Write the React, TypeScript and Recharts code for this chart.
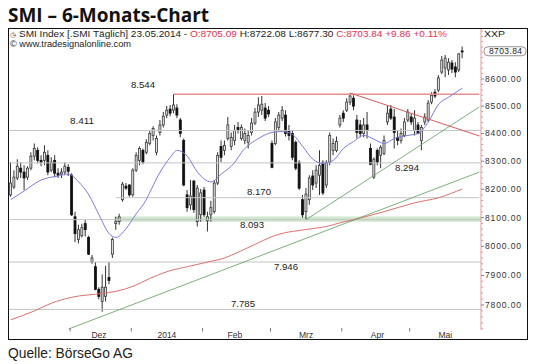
import React from "react";
import { ComposedChart, Bar, Line, XAxis, YAxis, ReferenceLine, ReferenceArea } from "recharts";

// trading days per month
const NOV_2013 = [6, 7, 8, 11, 12, 13, 14, 15, 18, 19, 20, 21, 22, 25, 26, 27, 28, 29];
const DEC_2013 = [2, 3, 4, 5, 6, 9, 10, 11, 12, 13, 16, 17, 18, 19, 20, 23, 27, 30];
const JAN_2014 = [3, 6, 7, 8, 9, 10, 13, 14, 15, 16, 17, 20, 21, 22, 23, 24, 27, 28, 29, 30, 31];
const FEB_2014 = [3, 4, 5, 6, 7, 10, 11, 12, 13, 14, 17, 18, 19, 20, 21, 24, 25, 26, 27, 28];
const MAR_2014 = [3, 4, 5, 6, 7, 10, 11, 12, 13, 14, 17, 18, 19, 20, 21, 24, 25, 26, 27, 28, 31];
const APR_2014 = [1, 2, 3, 4, 7, 8, 9, 10, 11, 14, 15, 16, 17, 22, 23, 24, 25, 28, 29, 30];
const MAY_2014 = [2, 5, 6, 7, 8, 9, 12, 13, 14, 15, 16, 19, 20, 21, 22, 23];
// empty slots right of the last session
const AFTER_END = ["26.05.2014", "27.05.2014", "28.05.2014", "30.05.2014", "02.06.2014"];

const OPEN = [
  8180, 8208, 8240, 8275, 8261, 8243, 8275, 8318, 8339, 8303, 8303, 8321, 8268, 8303, 8257, 8254, 8261, 8278,
  8250, 8103, 8024, 8037, 8079, 8031, 7946, 7930, 7853, 7812, 7829, 7893, 7973, 8079, 8086, 8163, 8211, 8215,
  8180, 8268, 8303, 8339, 8332, 8364, 8393, 8332, 8404, 8431, 8467, 8489, 8485, 8493, 8449, 8375, 8180, 8145, 8229, 8086, 8110,
  8197, 8089, 8110, 8121, 8222, 8353, 8339, 8382, 8353, 8375, 8422, 8382, 8375, 8368, 8404, 8438, 8478, 8485, 8493, 8485,
  8364, 8364, 8422, 8456, 8467, 8411, 8400, 8368, 8296, 8163, 8121, 8163, 8247, 8222, 8250, 8296, 8215, 8296, 8339, 8339, 8431,
  8474, 8485, 8515, 8529, 8449, 8431, 8400, 8431, 8346, 8243, 8339, 8321, 8328, 8442, 8489, 8460, 8386, 8375, 8393, 8449,
  8460, 8411, 8431, 8375, 8442, 8449, 8515, 8551, 8559, 8626, 8641, 8634, 8660, 8645, 8634, 8705.09,
];
const HIGH = [
  8296, 8268, 8307, 8296, 8285, 8282, 8332, 8364, 8350, 8321, 8357, 8339, 8314, 8321, 8275, 8275, 8296, 8289,
  8257, 8121, 8075, 8079, 8093, 8037, 7970, 7946, 7860, 7903, 7933, 7946, 8031, 8103, 8114, 8226, 8222, 8218,
  8275, 8332, 8353, 8346, 8379, 8411, 8426, 8393, 8449, 8478, 8500, 8504, 8544, 8507, 8456, 8382, 8197, 8233, 8233, 8215, 8201,
  8208, 8121, 8159, 8233, 8332, 8375, 8375, 8460, 8404, 8431, 8442, 8433, 8418, 8411, 8456, 8493, 8533, 8537, 8511, 8500,
  8375, 8456, 8478, 8500, 8485, 8431, 8411, 8375, 8303, 8180, 8204, 8250, 8268, 8285, 8339, 8303, 8303, 8404, 8382, 8389, 8467,
  8485, 8529, 8548, 8540, 8467, 8449, 8456, 8478, 8364, 8314, 8346, 8357, 8393, 8500, 8504, 8489, 8411, 8418, 8456, 8489,
  8471, 8485, 8442, 8431, 8474, 8522, 8551, 8562, 8615, 8686, 8690, 8678, 8671, 8663, 8697, 8722.08,
];
const LOW = [
  8173, 8201, 8233, 8240, 8197, 8233, 8268, 8303, 8292, 8282, 8285, 8250, 8261, 8243, 8240, 8240, 8250, 8247,
  8106, 8014, 8010, 8031, 8034, 7970, 7940, 7850, 7819, 7777, 7812, 7870, 7960, 8058, 8075, 8156, 8197, 8173,
  8173, 8261, 8285, 8289, 8325, 8357, 8375, 8321, 8393, 8422, 8456, 8463, 8474, 8456, 8386, 8211, 8121, 8128, 8117, 8069, 8086,
  8103, 8052, 8086, 8114, 8215, 8296, 8321, 8375, 8339, 8357, 8400, 8375, 8361, 8346, 8393, 8431, 8460, 8467, 8445, 8460,
  8275, 8357, 8411, 8445, 8389, 8375, 8303, 8268, 8197, 8100, 8093, 8145, 8197, 8204, 8180, 8180, 8204, 8285, 8321, 8332, 8422,
  8442, 8478, 8504, 8485, 8382, 8386, 8386, 8382, 8285, 8236, 8285, 8275, 8321, 8431, 8449, 8346, 8357, 8364, 8386, 8442,
  8431, 8393, 8397, 8339, 8431, 8442, 8507, 8529, 8551, 8619, 8607, 8615, 8622, 8607, 8626, 8677.3,
];
const CLOSE = [
  8222, 8243, 8282, 8261, 8240, 8275, 8318, 8346, 8303, 8296, 8332, 8261, 8296, 8257, 8250, 8261, 8282, 8264,
  8110, 8044, 8058, 8065, 8058, 7973, 7960, 7853, 7829, 7860, 7860, 7883, 8024, 8086, 8103, 8218, 8204, 8180,
  8268, 8321, 8346, 8296, 8368, 8400, 8418, 8382, 8431, 8463, 8485, 8474, 8504, 8467, 8400, 8215, 8135, 8176, 8128, 8204, 8187,
  8110, 8103, 8135, 8222, 8321, 8314, 8357, 8431, 8386, 8411, 8411, 8422, 8400, 8393, 8438, 8478, 8504, 8507, 8456, 8471,
  8278, 8442, 8467, 8485, 8400, 8393, 8314, 8275, 8204, 8110, 8183, 8240, 8215, 8268, 8285, 8187, 8296, 8393, 8364, 8371, 8456,
  8456, 8515, 8537, 8500, 8404, 8400, 8431, 8411, 8289, 8307, 8296, 8350, 8375, 8474, 8456, 8404, 8375, 8400, 8442, 8478,
  8442, 8456, 8400, 8422, 8460, 8511, 8540, 8537, 8604, 8671, 8678, 8663, 8637, 8626, 8693.98, 8703.84,
];

// moving averages at these sessions
const BLUE_AT = [0, 4, 9, 14, 17, 20, 23, 26, 29, 31, 34, 37, 39, 44, 47, 49, 52, 55, 59, 62, 66, 68, 73, 77, 80, 83, 86, 89, 92, 95, 98, 101, 104, 107, 110, 113, 117, 120, 123, 126, 129, 133];
const BLUE_MA = [8163, 8194, 8233, 8247, 8254, 8226, 8180, 8110, 8044, 8031, 8062, 8114, 8145, 8261, 8314, 8339, 8318, 8261, 8226, 8254, 8296, 8332, 8382, 8404, 8407, 8396, 8353, 8307, 8292, 8303, 8346, 8371, 8393, 8379, 8364, 8382, 8393, 8400, 8442, 8507, 8533, 8566];
const RED_AT = [0, 7, 12, 18, 27, 31, 36, 41, 46, 52, 58, 63, 67, 72, 77, 81, 85, 89, 93, 97, 101, 110, 119, 126, 133];
const RED_MA = [7750, 7780, 7806, 7826, 7839, 7846, 7863, 7890, 7913, 7930, 7946, 7960, 7980, 8007, 8034, 8048, 8055, 8062, 8069, 8082, 8093, 8121, 8152, 8170, 8201];

// trend lines: [start session, end session], [start value, end value]
const TREND_LONG_AT = [17, 138];
const TREND_LONG = [7719, 8261];
const TREND_MAR_AT = [87, 138];
const TREND_MAR = [8093, 8497];
const TREND_DOWN_AT = [100, 138];
const TREND_DOWN = [8548, 8391];

// horizontal levels
const LEVELS = [8411, 8294, 8093, 7946, 7785];
const LEVEL_8170_FROM = 31;
const LEVEL_8544_FROM = 48;
const BAND_FROM = 31;
const BAND = [8086, 8104];

const Y_TICKS = [7800, 7900, 8000, 8100, 8200, 8300, 8400, 8500, 8600];
const Y_MINOR = [
  7720, 7740, 7760, 7780, 7820, 7840, 7860, 7880, 7920, 7940, 7960, 7980, 8020, 8040, 8060, 8080,
  8120, 8140, 8160, 8180, 8220, 8240, 8260, 8280, 8320, 8340, 8360, 8380, 8420, 8440, 8460, 8480,
  8520, 8540, 8560, 8580, 8620, 8640, 8660, 8680, 8700, 8720, 8740, 8760, 8780,
];
const MONTH_START_AT = [18, 36, 57, 77, 98, 118];
const MONTH_LABEL_AT = [26, 46, 66, 87, 108, 128];
const MONTH_LABELS = ["Dez", "2014", "Feb", "Mrz", "Apr", "Mai"];

const MONTHS: [number[], string][] = [
  [NOV_2013, "11.2013"], [DEC_2013, "12.2013"], [JAN_2014, "01.2014"], [FEB_2014, "02.2014"],
  [MAR_2014, "03.2014"], [APR_2014, "04.2014"], [MAY_2014, "05.2014"],
];
const DATES = [
  ...MONTHS.flatMap(([days, m]) => days.map((d) => `${String(d).padStart(2, "0")}.${m}`)),
  ...AFTER_END,
];

const LAST = OPEN.length - 1;
const LAST_CLOSE = CLOSE[LAST];
const PREV_CLOSE = CLOSE[LAST - 1];

const rows: any[] = DATES.map((d, i) => {
  const row: any = { d };
  if (i <= LAST) {
    row.wick = [LOW[i], HIGH[i]];
    row.body = [Math.min(OPEN[i], CLOSE[i]), Math.max(OPEN[i], CLOSE[i])];
    row.up = CLOSE[i] > OPEN[i];
  }
  return row;
});
const put = (key: string, at: number[], vals: number[]) => at.forEach((i, k) => (rows[i][key] = vals[k]));
put("blue", BLUE_AT, BLUE_MA);
put("red", RED_AT, RED_MA);
put("g1", TREND_LONG_AT, TREND_LONG);
put("g2", TREND_MAR_AT, TREND_MAR);
put("rt", TREND_DOWN_AT, TREND_DOWN);

const AXIS_RED = "#e69a9a";
const SANS = "'Liberation Sans', Arial, sans-serif";

function CandleBody(props: any) {
  const { x, y, width, height, payload } = props;
  if (x == null || y == null || !payload) return null;
  const up = payload.up;
  return (
    <rect
      x={x + 0.5}
      y={y}
      width={Math.max(width - 1, 1)}
      height={Math.max(height, 1)}
      fill={up ? "#e2e2e2" : "#111"}
      stroke={up ? "#3a3a3a" : "#111"}
      strokeWidth={0.8}
    />
  );
}

function PriceTick(props: any) {
  const { x, y, payload } = props;
  const v = payload.value as number;
  if (v === LAST_CLOSE) {
    return (
      <g>
        <rect x={x + 3} y={y - 4.5} width={42} height={9} rx={4} fill="#fff" stroke="#777" strokeWidth={0.8} />
        <text x={x + 8} y={y + 3} fontSize={8.5} fontFamily={SANS} fill="#222" textLength={33}>
          {v.toFixed(2)}
        </text>
      </g>
    );
  }
  if (Y_MINOR.includes(v)) {
    return <line x1={x} x2={x + 2} y1={y} y2={y} stroke={AXIS_RED} />;
  }
  return (
    <g>
      <line x1={x} x2={x + 3} y1={y} y2={y} stroke="#888" />
      <text x={x + 4} y={y + 3} fontSize={8.5} fontFamily={SANS} fill="#333" textLength={36}>
        {v.toFixed(2)}
      </text>
    </g>
  );
}

// level annotation: x in chart pixels, y from the line itself
const levelLabel = (text: string, x: number, dy: number) => (p: any) => {
  const vb = p && p.viewBox;
  if (!vb) return null;
  return (
    <text x={x} y={vb.y + dy} fontSize={8.5} fontFamily={SANS} fill="#222" textLength={24} lengthAdjust="spacingAndGlyphs">
      {text}
    </text>
  );
};

const monthLabel = (text: string) => (p: any) => {
  const vb = p && p.viewBox;
  if (!vb) return null;
  return (
    <text x={vb.x} y={vb.y + vb.height + 7.5} textAnchor="middle" fontSize={8.5} fontFamily={SANS} fill="#333">
      {text}
    </text>
  );
};

const monthMark = (p: any) => {
  const vb = p && p.viewBox;
  if (!vb) return null;
  const bx = vb.x - 1.7;
  const by = vb.y + vb.height;
  return <line x1={bx} x2={bx} y1={by - 2} y2={by + 1.5} stroke="#777" />;
};

const LEVEL_TEXT: Record<number, [string, number, number]> = {
  8411: ["8.411", 61, -6.5],
  8294: ["8.294", 386, 8],
  8093: ["8.093", 231, 8.5],
  7946: ["7.946", 265, 7.5],
  7785: ["7.785", 222, -2],
};

export default function App() {
  return (
    <div style={{ position: "relative", width: 532, height: 356 }}>
      <div
        style={{
          position: "absolute",
          left: 0,
          top: 20,
          width: 518,
          height: 310,
          border: "1px solid #111",
          background: "#fff",
        }}
      >
        <ComposedChart width={518} height={310} data={rows} margin={{ top: 0, right: 0, bottom: 0, left: 0 }}>
          <XAxis xAxisId="main" dataKey="d" tick={false} tickLine={false} axisLine={{ stroke: AXIS_RED }} height={9} />
          <XAxis xAxisId="wick" dataKey="d" hide />
          <XAxis xAxisId="body" dataKey="d" hide />
          <YAxis
            orientation="right"
            scale="log"
            domain={[7716, 8788]}
            allowDataOverflow
            ticks={[...Y_MINOR, ...Y_TICKS, LAST_CLOSE]}
            interval={0}
            tick={PriceTick}
            tickLine={false}
            tickSize={0}
            tickMargin={0}
            axisLine={{ stroke: AXIS_RED }}
            width={46}
          />
          <ReferenceArea
            xAxisId="main"
            x1={DATES[BAND_FROM]}
            x2={DATES[DATES.length - 1]}
            y1={BAND[0]}
            y2={BAND[1]}
            fill="#cfe6cf"
            fillOpacity={1}
            stroke="none"
          />
          {LEVELS.map((v) => (
            <ReferenceLine
              key={v}
              xAxisId="main"
              y={v}
              stroke="#c4c4c4"
              strokeWidth={1}
              label={levelLabel(LEVEL_TEXT[v][0], LEVEL_TEXT[v][1], LEVEL_TEXT[v][2])}
            />
          ))}
          <ReferenceLine
            xAxisId="main"
            segment={[{ x: DATES[LEVEL_8170_FROM], y: 8170 }, { x: DATES[DATES.length - 1], y: 8170 }]}
            stroke="#c4c4c4"
            label={levelLabel("8.170", 238, -2.5)}
          />
          <ReferenceLine
            xAxisId="main"
            segment={[{ x: DATES[LEVEL_8544_FROM], y: 8544 }, { x: DATES[DATES.length - 1], y: 8544 }]}
            stroke="#e89090"
            strokeWidth={1.5}
            label={levelLabel("8.544", 122, -6.5)}
          />
          {MONTH_START_AT.map((i) => (
            <ReferenceLine key={"s" + i} xAxisId="main" x={DATES[i]} stroke="none" label={monthMark} />
          ))}
          {MONTH_LABEL_AT.map((i, k) => (
            <ReferenceLine key={"l" + i} xAxisId="main" x={DATES[i]} stroke="none" label={monthLabel(MONTH_LABELS[k])} />
          ))}
          <Line xAxisId="main" dataKey="red" stroke="#e07070" strokeWidth={1} dot={false} connectNulls type="monotone" isAnimationActive={false} />
          <Line xAxisId="main" dataKey="g1" stroke="#5c9c5c" strokeWidth={0.8} dot={false} connectNulls type="linear" isAnimationActive={false} />
          <Line xAxisId="main" dataKey="g2" stroke="#5c9c5c" strokeWidth={0.8} dot={false} connectNulls type="linear" isAnimationActive={false} />
          <Line xAxisId="main" dataKey="rt" stroke="#e05a5a" strokeWidth={1} dot={false} connectNulls type="linear" isAnimationActive={false} />
          <Line xAxisId="main" dataKey="blue" stroke="#7c7ce0" strokeWidth={1} dot={false} connectNulls type="monotone" isAnimationActive={false} />
          <Bar xAxisId="wick" dataKey="wick" barSize={1} fill="#333" isAnimationActive={false} />
          <Bar xAxisId="body" dataKey="body" barSize={3} shape={CandleBody} isAnimationActive={false} />
        </ComposedChart>
      </div>
      {/* overlay in page coordinates (body margin is 8px) */}
      <svg width={540} height={364} style={{ position: "absolute", left: -8, top: -8, pointerEvents: "none" }}>
        <text x={8} y={21.5} fontFamily="'Open Sans', sans-serif" fontWeight={700} fontSize={20} fill="#111" textLength={201} lengthAdjust="spacingAndGlyphs">
          SMI – 6-Monats-Chart
        </text>
        <text x={10} y={37} fontSize={7} fontFamily="'DejaVu Sans', sans-serif" fill="#333">◷</text>
        <text x={19} y={37} fontSize={8.5} fontFamily={SANS} textLength={428} lengthAdjust="spacingAndGlyphs">
          <tspan fill="#222">SMI Index [.SMI  Täglich] 23.05.2014 - </tspan>
          <tspan fill="#e8334d">O:{OPEN[LAST].toFixed(2)}</tspan>
          <tspan fill="#222"> H:{HIGH[LAST].toFixed(2)} L:{LOW[LAST].toFixed(2)} </tspan>
          <tspan fill="#e8334d">
            C:{LAST_CLOSE.toFixed(2)} +{(LAST_CLOSE - PREV_CLOSE).toFixed(2)} +{((LAST_CLOSE / PREV_CLOSE - 1) * 100).toFixed(2)}%
          </tspan>
        </text>
        <text x={10} y={46.5} fontSize={8.5} fontFamily={SANS} fill="#222" textLength={121} lengthAdjust="spacingAndGlyphs">
          © www.tradesignalonline.com
        </text>
        <text x={484} y={37} fontSize={8.5} fontFamily={SANS} fill="#222" textLength={21} lengthAdjust="spacingAndGlyphs">
          XXP
        </text>
        <text x={8} y={357.5} fontSize={14} fontFamily={SANS} fill="#222" textLength={125} lengthAdjust="spacingAndGlyphs">
          Quelle: BörseGo AG
        </text>
      </svg>
    </div>
  );
}
